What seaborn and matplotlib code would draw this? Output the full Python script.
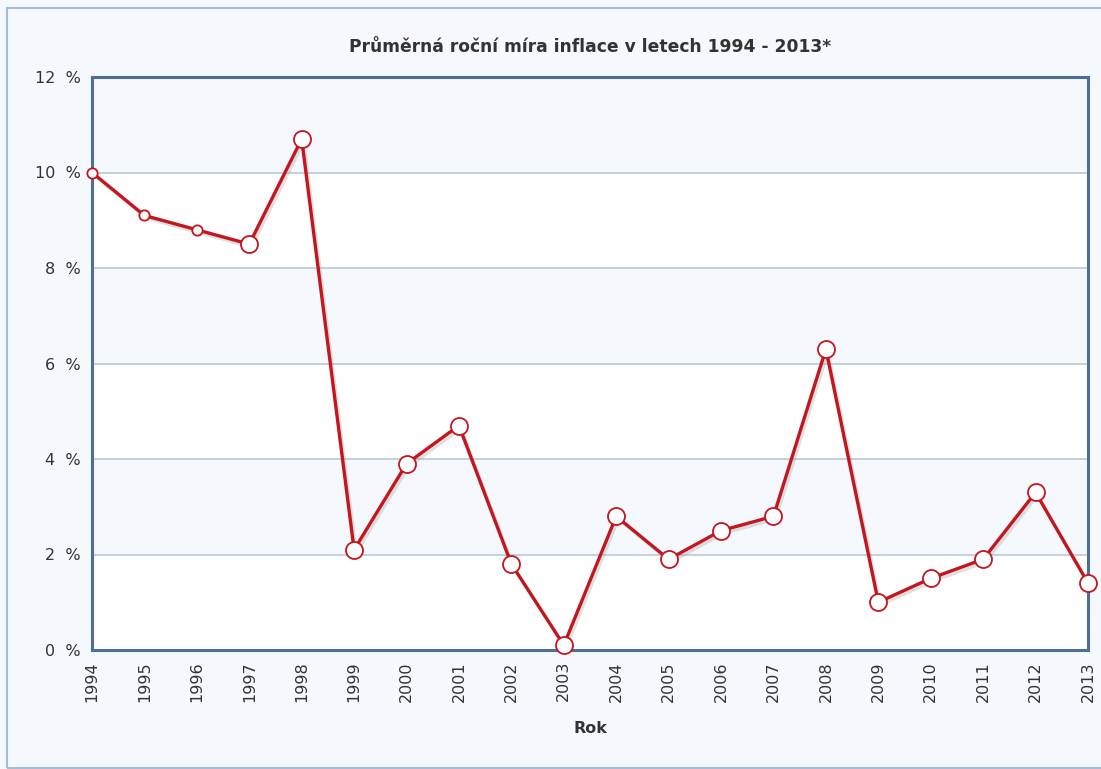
"""Average annual inflation rate in CZ, 1994 - 2013."""
import matplotlib
matplotlib.use("Agg")
import matplotlib.pyplot as plt
import matplotlib.patheffects as pe
from matplotlib.patches import Rectangle
import seaborn as sns
import pandas as pd

years = [1994, 1995, 1996, 1997, 1998, 1999, 2000, 2001, 2002, 2003,
         2004, 2005, 2006, 2007, 2008, 2009, 2010, 2011, 2012, 2013]
inflation = [10.0, 9.1, 8.8, 8.5, 10.7, 2.1, 3.9, 4.7, 1.8, 0.1,
             2.8, 1.9, 2.5, 2.8, 6.3, 1.0, 1.5, 1.9, 3.3, 1.4]
y_ticks = [0, 2, 4, 6, 8, 10, 12]
title = "Průměrná roční míra inflace v letech 1994 - 2013*"
x_label = "Rok"

# first three points are drawn with smaller markers in the original
small_marker_years = [1994, 1995, 1996]

df = pd.DataFrame({"year": years, "rate": inflation})
df["small"] = df["year"].isin(small_marker_years)

sns.set_style("white")
plt.rcParams["font.family"] = ["DejaVu Sans"]

BG = "#f5f9fd"
RED = "#c3161f"
SPINE = "#4d6f95"
GRID = "#b9c9da"

fig = plt.figure(figsize=(11.01, 7.69), dpi=100, facecolor=BG)
fig.patches.append(Rectangle((7 / 1101, 1 / 769), 1.2, 760 / 769,
                             transform=fig.transFigure, fill=False,
                             edgecolor="#a7bcd2", linewidth=1.5))
ax = fig.add_axes([92 / 1101, 1 - 650 / 769, 996 / 1101, 573 / 769])
ax.set_facecolor("white")

# alternating horizontal bands
for lo, hi in zip(y_ticks[1::2], y_ticks[2::2]):
    ax.axhspan(lo, hi, color=BG, zorder=0, linewidth=0)
for t in y_ticks[1:-1]:
    ax.axhline(t, color=GRID, linewidth=1.2, zorder=1)

sns.lineplot(data=df, x="year", y="rate", ax=ax, color=RED, linewidth=2.4,
             zorder=3, clip_on=False,
             path_effects=[pe.SimpleLineShadow(offset=(1.5, -2), shadow_color="#999999", alpha=0.3),
                           pe.Normal()])
sns.scatterplot(data=df[~df["small"]], x="year", y="rate", ax=ax, s=150,
                color="white", edgecolor=RED, linewidth=1.3, zorder=4, clip_on=False)
sns.scatterplot(data=df[df["small"]], x="year", y="rate", ax=ax, s=55,
                color="white", edgecolor=RED, linewidth=1.3, zorder=4, clip_on=False)

ax.set_xlim(years[0], years[-1])
ax.set_ylim(y_ticks[0], y_ticks[-1])
ax.set_yticks(y_ticks)
ax.set_yticklabels([f"{t}  %" for t in y_ticks])
ax.set_xticks(years)
ax.set_xticklabels([str(y) for y in years], rotation=90)
ax.tick_params(axis="both", length=0, labelsize=11.5, colors="#333333")
ax.tick_params(axis="y", pad=8)
ax.tick_params(axis="x", pad=8)

for s in ax.spines.values():
    s.set_visible(True)
    s.set_color(SPINE)
    s.set_linewidth(2.2)
    s.set_zorder(2)

ax.set_xlabel(x_label, fontsize=11.5, fontweight="bold", color="#333333", labelpad=14)
ax.set_ylabel("")
fig.text(590 / 1101, 1 - 47 / 769, title, ha="center", va="center",
         fontsize=12.3, fontweight="bold", color="#333333")

plt.savefig("out.png", dpi=100, facecolor=BG)
